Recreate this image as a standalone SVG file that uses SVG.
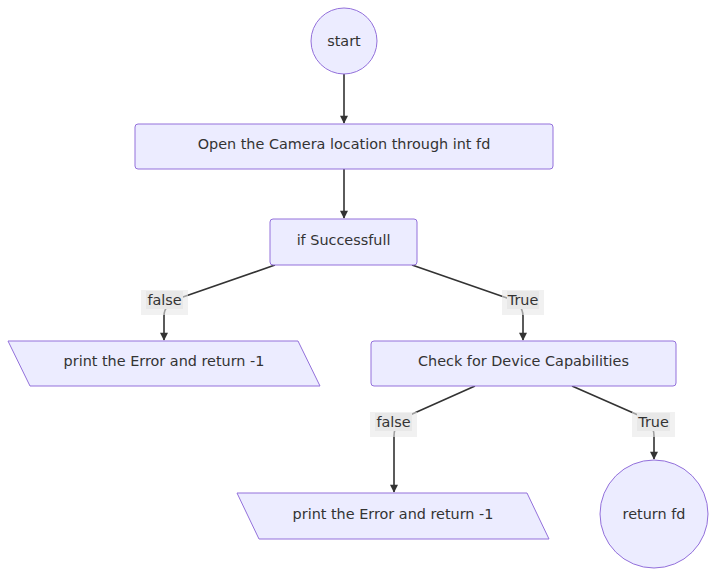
<svg xmlns="http://www.w3.org/2000/svg" width="716" height="579" viewBox="0 0 716 579">
<style>
.node{fill:#ECECFF;stroke:#9370DB;stroke-width:1}
.lbl{font-family:"trebuchet ms",Verdana,"DejaVu Sans",sans-serif;font-size:14.4px;fill:#333}
.edge{fill:none;stroke:#333;stroke-width:1.6}
.ebg{fill:#e8e8e8;opacity:0.6}
.etxt{fill:#e8e8e8}
</style>
<defs>
<marker id="arr" viewBox="0 0 10 10" refX="9" refY="5" markerWidth="8" markerHeight="8" markerUnits="userSpaceOnUse" orient="auto" overflow="visible">
<path d="M0,0 L10,5 L0,10 z" fill="#333"/>
</marker>
</defs>
<rect width="716" height="579" fill="#fff"/>
<g id="connectors">
<path class="edge" d="M344,74 L344,123" marker-end="url(#arr)"/>
<path class="edge" d="M344,169 L344,218" marker-end="url(#arr)"/>
<path class="edge" d="M275,265 L180,298 Q164,304 164,316 L164,340" marker-end="url(#arr)"/>
<path class="edge" d="M412,265 L507,298 Q523,304 523,316 L523,340" marker-end="url(#arr)"/>
<path class="edge" d="M475,386 L410,415 Q394,422 394,436 L394,492" marker-end="url(#arr)"/>
<path class="edge" d="M572,386 L638,415 Q654,422 654,436 L654,459" marker-end="url(#arr)"/>
</g>
<g id="edge-labels">
<g id="lbl-false1"><rect class="ebg" x="141" y="290" width="47" height="25"/><rect class="etxt" x="146" y="291" width="37" height="18"/><text class="lbl" x="164.5" y="305" text-anchor="middle">false</text></g>
<g id="lbl-true1"><rect class="ebg" x="502" y="290" width="42" height="25"/><rect class="etxt" x="507" y="291" width="32" height="18"/><text class="lbl" x="523" y="305" text-anchor="middle">True</text></g>
<g id="lbl-false2"><rect class="ebg" x="370" y="412" width="47" height="25"/><rect class="etxt" x="375" y="413" width="37" height="18"/><text class="lbl" x="393.5" y="427" text-anchor="middle">false</text></g>
<g id="lbl-true2"><rect class="ebg" x="632" y="412" width="43" height="25"/><rect class="etxt" x="637" y="413" width="33" height="18"/><text class="lbl" x="653.5" y="427" text-anchor="middle">True</text></g>
</g>
<g id="start"><circle class="node" cx="344" cy="41" r="33"/><text class="lbl" x="344" y="46" text-anchor="middle">start</text></g>
<g id="open"><rect class="node" x="135" y="124" width="418" height="45" rx="3"/><text class="lbl" x="344" y="149" text-anchor="middle">Open the Camera location through int fd</text></g>
<g id="ifsucc"><rect class="node" x="270" y="219" width="147" height="46" rx="3"/><text class="lbl" x="343.5" y="245" text-anchor="middle">if Successfull</text></g>
<g id="err1"><polygon class="node" points="8,341 298,341 320,386 30,386"/><text class="lbl" x="164" y="366" text-anchor="middle">print the Error and return -1</text></g>
<g id="check"><rect class="node" x="371" y="341" width="305" height="45" rx="3"/><text class="lbl" x="523.5" y="366" text-anchor="middle">Check for Device Capabilities</text></g>
<g id="err2"><polygon class="node" points="237,493 527,493 549,539 259,539"/><text class="lbl" x="393" y="519" text-anchor="middle">print the Error and return -1</text></g>
<g id="retfd"><circle class="node" cx="654" cy="514" r="54"/><text class="lbl" x="654" y="519" text-anchor="middle">return fd</text></g>
</svg>
